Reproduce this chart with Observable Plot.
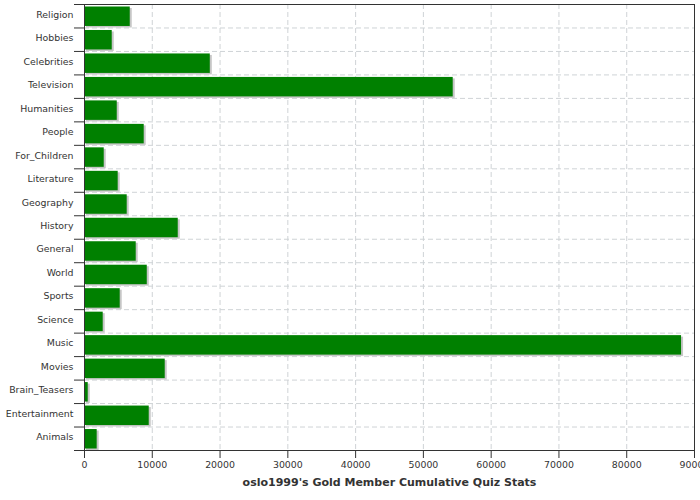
<!DOCTYPE html>
<html><head><meta charset="utf-8">
<script src="https://cdn.jsdelivr.net/npm/d3@7"></script>
<script src="https://cdn.jsdelivr.net/npm/@observablehq/plot@0.6"></script>
<style>body{margin:0;background:#fff;overflow:hidden}</style>
</head><body><div id="chart"></div>
<script>
const categories = ["Religion","Hobbies","Celebrities","Television","Humanities","People","For_Children","Literature","Geography","History","General","World","Sports","Science","Music","Movies","Brain_Teasers","Entertainment","Animals"];
const values = [6750,4090,18560,54400,4830,8810,2910,4970,6300,13830,7630,9260,5270,2760,88090,11910,550,9550,1870];
const xTicks = [0,10000,20000,30000,40000,50000,60000,70000,80000,90000];
const title = "oslo1999's Gold Member Cumulative Quiz Stats";

const data = categories.map((c, i) => ({category: c, value: values[i]}));
const W = 700, H = 500, mt = 4, mb = 50, ml = 84, mr = 6;
const step = (H - mt - mb) / categories.length;
const gridColor = "#cfd3d6";

const plot = Plot.plot({
  width: W, height: H, marginTop: mt, marginBottom: mb, marginLeft: ml, marginRight: mr,
  style: {fontFamily: "DejaVu Sans", fontSize: "9.4px", color: "#333", background: "#fff"},
  x: {domain: [0, 90000], label: null},
  y: {domain: categories, padding: 0, round: false, label: null},
  marks: [
    Plot.ruleX(xTicks.slice(1, -1), {stroke: gridColor, strokeDasharray: "5,3"}),
    Plot.ruleY(categories.slice(1), {y: d => d, dy: -step / 2, stroke: gridColor, strokeDasharray: "5,3"}),
    Plot.barX(data, {y: "category", x: "value", fill: "#c6c6c6", dx: 2, dy: 1.5, insetTop: 2.5, insetBottom: 1.5}),
    Plot.barX(data, {y: "category", x: "value", fill: "#008000", insetTop: 2.5, insetBottom: 1.5}),
    Plot.axisY({tickSize: 0, tickPadding: 11, dy: -1.5, label: null}),
    Plot.axisY(categories, {tickSize: 10, tickFormat: () => "", dy: -step / 2, label: null}),
    Plot.axisY([categories[categories.length - 1]], {tickSize: 10, tickFormat: () => "", dy: step / 2, label: null}),
    Plot.axisX({ticks: xTicks, tickSize: 8, tickPadding: 3, label: null, tickFormat: d3.format("d")}),
    Plot.frame({stroke: "#333"}),
    Plot.text([title], {text: d => d, frameAnchor: "bottom", dy: 35.5, fontWeight: "bold", fontSize: 11, fill: "#333"})
  ]
});
document.getElementById("chart").appendChild(plot);
</script>
</body></html>
